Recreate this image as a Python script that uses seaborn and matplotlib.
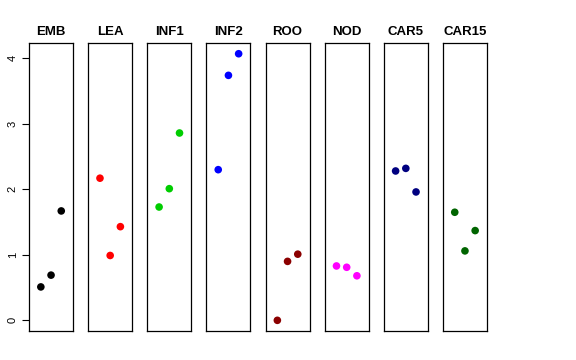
import pandas as pd
import seaborn as sns
import matplotlib
matplotlib.use("Agg")
import matplotlib.pyplot as plt

# tissues and their three values
tissues = ["EMB", "LEA", "INF1", "INF2", "ROO", "NOD", "CAR5", "CAR15"]
colors = ["black", "red", "#00CD00", "blue", "#8B0000", "magenta", "#000080", "#006400"]
emb = [0.51, 0.69, 1.67]
lea = [2.17, 0.99, 1.43]
inf1 = [1.73, 2.01, 2.86]
inf2 = [2.30, 3.74, 4.07]
roo = [0.00, 0.90, 1.01]
nod = [0.83, 0.81, 0.68]
car5 = [2.28, 2.32, 1.96]
car15 = [1.65, 1.06, 1.37]
values = [emb, lea, inf1, inf2, roo, nod, car5, car15]
rep = [1, 2, 3]

rows = []
for t, v in zip(tissues, values):
    for r, y in zip(rep, v):
        rows.append({"tissue": t, "rep": r, "value": y})
df = pd.DataFrame(rows)

sns.set_style("white")
plt.rcParams["font.family"] = ["Liberation Sans", "DejaVu Sans"]
plt.rcParams["text.color"] = "black"
plt.rcParams["axes.labelcolor"] = "black"
plt.rcParams["ytick.color"] = "black"

fig, axes = plt.subplots(1, len(tissues), figsize=(5.76, 3.6), dpi=100, sharey=True)
fig.subplots_adjust(left=29 / 576, right=487 / 576, bottom=29 / 360, top=317 / 360, wspace=15 / 44)

for ax, t, c in zip(axes, tissues, colors):
    sub = df[df["tissue"] == t]
    sns.scatterplot(data=sub, x="rep", y="value", color=c, s=30, edgecolor="none", ax=ax, legend=False)
    ax.set_xlim(-0.16, 4.16)
    ax.set_ylim(-0.163, 4.234)
    ax.set_xticks([])
    ax.set_xlabel("")
    ax.set_ylabel("")
    ax.set_title(t, fontsize=9.5, fontweight="bold", pad=6, color="black")
    for s in ax.spines.values():
        s.set_visible(True)
        s.set_color("black")
        s.set_linewidth(0.9)

ax0 = axes[0]
ax0.set_yticks([0, 1, 2, 3, 4])
ax0.tick_params(axis="y", left=True, length=5, width=0.8, labelsize=8, pad=3,
                color="black", labelcolor="black")
for lab in ax0.get_yticklabels():
    lab.set_rotation(90)
    lab.set_va("center")
for ax in axes[1:]:
    ax.tick_params(axis="y", left=False, labelleft=False)

fig.savefig("out.png", dpi=100)
